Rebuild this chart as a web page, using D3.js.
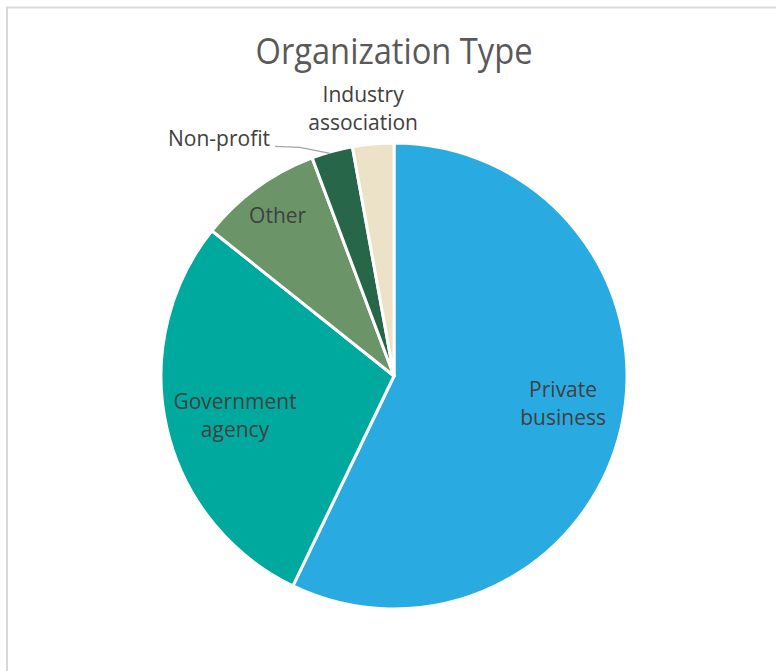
<!DOCTYPE html>
<html><head><meta charset="utf-8">
<script src="https://cdn.jsdelivr.net/npm/d3@7"></script>
<style>
html,body{margin:0;padding:0;background:#fff;}
svg{display:block;}
</style></head>
<body>
<svg id="c" width="776" height="671"></svg>
<script>
const categories = ["Private business", "Government agency", "Other", "Non-profit", "Industry association"];
const values = [20, 10, 3, 1, 1];
const colors = ["#29ABE2", "#00A99D", "#6B9468", "#28664A", "#EBE2C8"];
const labelLines = [["Private", "business"], ["Government", "agency"], ["Other"], ["Non-profit"], ["Industry", "association"]];

const svg = d3.select("#c");
// chart frame
svg.append("path").attr("d", "M7,671 V7.5 H776").attr("fill", "none").attr("stroke", "#d9d9d9").attr("stroke-width", 2);

svg.append("text").attr("x", 394).attr("y", 64).attr("text-anchor", "middle")
  .attr("font-family", "'Open Sans','Noto Sans',sans-serif")
  .attr("font-size", 36).attr("fill", "#595959")
  .attr("textLength", 277).attr("lengthAdjust", "spacingAndGlyphs")
  .text("Organization Type");

const cx = 394, cy = 376, R = 233;
const g = svg.append("g").attr("transform", `translate(${cx},${cy})`);
const pie = d3.pie().sort(null).value(d => d);
const arcs = pie(values);
const arc = d3.arc().innerRadius(0).outerRadius(R);

g.selectAll("path.s").data(arcs).join("path").attr("class", "s")
  .attr("d", arc).attr("fill", (d, i) => colors[i])
  .attr("stroke", "#fff").attr("stroke-width", 3).attr("stroke-linejoin", "round");

// label placement
const font = "'Open Sans','Noto Sans',sans-serif";
const fs = 21, lh = 28;
function polar(a, r) { return [r * Math.sin(a), -r * Math.cos(a)]; }
const mid = d => (d.startAngle + d.endAngle) / 2;
const p0 = polar(mid(arcs[0]), R * 0.74);
const p1 = polar(mid(arcs[1]), R * 0.70);
const pos = [
  [p0[0] + 1, p0[1] - 10],
  [p1[0], p1[1] + 4],
  polar(mid(arcs[2]), R * 0.85),
  null, null
];
// outside labels
const npEdge = polar(mid(arcs[3]), R * 1.0);
pos[3] = [npEdge[0] - 62, npEdge[1] - 12];
const iaEdge = polar(mid(arcs[4]), R * 1.0);
pos[4] = [iaEdge[0] - 10, iaEdge[1] - 35];

labelLines.forEach((lines, i) => {
  const [x, y] = pos[i];
  const anchor = i === 3 ? "end" : "middle";
  const t = g.append("text").attr("text-anchor", anchor)
    .attr("font-family", font).attr("font-size", fs).attr("fill", "#404040");
  const y0 = y - (lines.length - 1) * lh / 2 + 7;
  lines.forEach((ln, k) => t.append("tspan").attr("x", x).attr("y", y0 + k * lh).text(ln));
});
// leader line for Non-profit
const np = pos[3];
g.append("path")
  .attr("d", `M${np[0] + 5},${np[1] + 7} L${np[0] + 30},${np[1] + 8} L${npEdge[0] - 2},${npEdge[1] + 2}`)
  .attr("fill", "none").attr("stroke", "#a6a6a6").attr("stroke-width", 1.3);
</script>
</body></html>
